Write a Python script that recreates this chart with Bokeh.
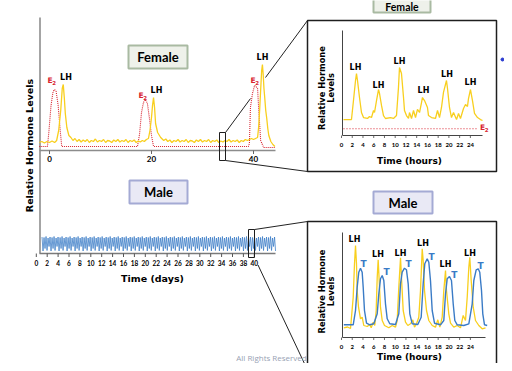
import numpy as np
from bokeh.plotting import figure
from bokeh.models import Range1d
from bokeh.core.properties import value
from bokeh.embed import file_html
from bokeh.resources import INLINE

# ---------------- data ----------------
# Female, time in days: (day, relative level)
fem_days_lh = [(-2.0, 8), (-1.5, 9), (-1.0, 7.5), (-0.5, 9), (0.0, 8), (0.5, 9.5), (1.0, 8), (1.4, 10),
               (1.6, 15), (1.8, 20), (2.2, 40), (2.5, 62), (2.7, 66), (2.9, 53), (3.1, 37), (3.4, 23),
               (3.8, 15), (4.2, 13), (4.6, 10), (5.0, 12), (5.4, 9), (5.8, 11), (6.2, 8.5), (6.6, 10.5),
               (7.0, 9), (7.4, 11), (7.8, 8), (8.2, 10), (8.6, 9), (9.0, 11.5), (9.4, 8.5), (9.8, 10),
               (10.2, 9), (10.6, 11), (11.0, 8), (11.4, 10), (11.8, 9.5), (12.2, 8), (12.6, 10.5),
               (13.0, 9), (13.4, 11), (13.8, 8.5), (14.2, 10), (14.6, 9), (15.0, 11), (15.4, 8),
               (15.8, 10), (16.2, 9), (16.6, 10.5), (17.0, 8), (17.4, 9.5), (17.8, 8.5), (18.2, 10),
               (18.6, 9), (19.0, 11), (19.4, 12), (19.7, 20), (20.0, 33), (20.2, 45), (20.4, 53),
               (20.6, 43), (20.8, 27), (21.2, 18), (21.8, 13), (22.4, 10), (22.8, 11.5), (23.2, 9),
               (23.6, 10.5), (24.0, 8), (24.4, 10), (24.8, 9), (25.2, 11), (25.6, 8.5), (26.0, 10),
               (26.4, 9), (26.8, 11), (27.2, 8), (27.6, 10), (28.0, 9.5), (28.4, 8), (28.8, 10.5),
               (29.2, 9), (29.6, 11), (30.0, 8.5), (30.4, 10), (30.8, 9), (31.2, 11), (31.6, 8),
               (32.0, 10), (32.4, 9), (32.8, 10.5), (33.2, 8), (33.6, 9.5), (34.0, 8.5), (34.4, 10),
               (34.8, 9), (35.2, 11), (35.6, 8.5), (36.0, 10), (36.4, 9), (36.8, 10.5), (37.2, 8),
               (37.6, 10), (38.0, 9), (38.4, 11), (38.8, 10), (39.2, 11), (39.6, 12), (40.0, 11),
               (40.4, 12), (40.8, 13), (41.0, 23), (41.2, 40), (41.4, 60), (41.6, 80), (41.75, 86),
               (41.9, 76), (42.05, 62), (42.2, 53), (42.4, 40), (42.6, 32), (42.8, 22), (43.0, 15),
               (43.4, 9), (43.8, 6), (44.2, 4)]
fem_days_e2 = [(-2.0, 4), (-0.4, 4), (-0.1, 20), (0.3, 45), (0.7, 59), (1.0, 61), (1.3, 59), (1.7, 45),
               (2.1, 20), (2.4, 4), (17.25, 4), (17.65, 16), (18.04, 38), (18.43, 48), (18.82, 51),
               (19.2, 47), (19.6, 32), (20.0, 15), (20.4, 4), (39.0, 4), (39.2, 7), (39.4, 43),
               (39.8, 57), (40.2, 65), (40.5, 64), (40.8, 62), (41.0, 43), (41.4, 10), (42.0, 3),
               (44.3, 3)]
fem_days_ticks = [0, 20, 40]

# Female, time in hours
fem_hours_lh = [(0.37, 15.2), (1.86, 15.2), (2.23, 33.3), (2.61, 52.4), (2.79, 59.0), (2.98, 52.4),
                (3.35, 36.2), (3.72, 21.9), (4.10, 17.1), (4.84, 16.2), (5.21, 18.1), (5.59, 17.1),
                (5.96, 23.8), (6.15, 21.9), (6.52, 33.3), (6.89, 43.8), (7.08, 40.0), (7.45, 28.6),
                (7.82, 19.0), (8.19, 16.2), (9.12, 17.1), (9.68, 16.2), (10.24, 19.0), (10.61, 45.7),
                (10.80, 64.8), (11.17, 59.0), (11.55, 36.2), (11.73, 23.8), (12.10, 19.0), (12.48, 16.2),
                (12.66, 21.9), (13.04, 16.2), (13.41, 23.8), (13.78, 17.1), (14.15, 24.8), (14.53, 21.9),
                (14.90, 31.4), (15.08, 36.2), (15.46, 33.3), (16.01, 26.7), (16.20, 19.0), (16.76, 17.1),
                (17.50, 16.2), (17.88, 23.8), (18.25, 17.1), (18.62, 26.7), (18.99, 41.0), (19.55, 52.4),
                (19.74, 44.8), (20.11, 26.7), (20.48, 17.1), (20.86, 21.9), (21.42, 15.2), (21.79, 21.0),
                (22.16, 16.2), (22.72, 25.7), (23.09, 29.5), (23.46, 27.6), (23.65, 35.2), (24.02, 43.8),
                (24.39, 33.3), (24.77, 21.0), (25.33, 17.1), (25.88, 15.2), (26.26, 14.3)]
fem_hours_e2 = [(0.37, 6.4), (25.5, 6.4)]
hour_ticks = list(range(0, 25, 2))

# Male, time in days (pulsatile testosterone, one stripe per pulse)
male_days_ticks = list(range(0, 41, 2))
male_days_span = [1.05, 43.9]
male_days_t_pattern = [16.5, 2.5, 16, 5, 17, 3, 15.5, 7]
male_days_stripes = 117

# Male, time in hours
male_hours_t = [(0.43, 12.7), (2.18, 12.7), (2.61, 27), (2.92, 50.3), (3.22, 65.3), (3.54, 69.3),
                (3.85, 65.3), (4.04, 50.3), (4.28, 27), (4.66, 14.3), (5.27, 12.7), (6.01, 13.7),
                (6.65, 23.7), (6.95, 43.7), (7.26, 58.7), (7.58, 62), (7.88, 57), (8.19, 33.7),
                (8.51, 18.7), (8.99, 13.7), (10.06, 13), (10.67, 23.7), (10.99, 53.7), (11.30, 65.3),
                (11.73, 69.3), (12.10, 67.7), (12.42, 53.7), (12.72, 23.7), (13.17, 13.7), (14.21, 13),
                (14.84, 20.3), (15.21, 53.7), (15.51, 73.7), (15.96, 78.7), (16.26, 75.3), (16.57, 57),
                (16.89, 27), (17.32, 14.3), (18.44, 12.7), (19.05, 17), (19.37, 43.7), (19.68, 58.7),
                (20.11, 61), (20.48, 57), (20.80, 33.7), (21.10, 17), (21.55, 12.7), (22.77, 12),
                (23.71, 13.7), (24.34, 33.7), (24.64, 57), (25.08, 67.7), (25.46, 68.7), (25.75, 65.3),
                (26.07, 47), (26.31, 23.7), (26.63, 12.7), (27.13, 12)]
male_hours_lh = [(0.43, 9.7), (1.12, 10.5), (1.68, 9), (2.18, 40.3), (2.42, 73.7), (2.61, 92),
                 (2.79, 73.7), (2.92, 47), (3.17, 30.3), (3.54, 18.7), (3.85, 20.3), (4.15, 12),
                 (4.79, 11), (5.27, 13), (5.53, 9.7), (5.90, 15.3), (6.20, 12), (6.46, 27),
                 (6.65, 60.3), (6.83, 77.7), (7.02, 57), (7.26, 30.3), (7.58, 17), (8.01, 12),
                 (8.81, 9.7), (9.44, 12), (10.06, 10.3), (10.37, 17), (10.67, 50.3), (10.99, 79.7),
                 (11.23, 53.7), (11.49, 27), (11.92, 15.3), (12.35, 12), (12.85, 13.7), (13.28, 17.7),
                 (13.59, 10.3), (13.97, 13.7), (14.39, 20.3), (14.71, 47), (15.03, 88.7), (15.21, 77),
                 (15.46, 47), (15.83, 27), (16.26, 17), (16.89, 12), (17.50, 10.3), (17.93, 17.7),
                 (18.31, 10.3), (18.75, 20.3), (19.05, 47), (19.37, 67), (19.55, 47), (19.98, 23.7),
                 (20.30, 14.3), (20.91, 10.3), (21.55, 12), (22.16, 9.7), (22.66, 22), (23.09, 17),
                 (23.41, 40.3), (23.71, 70.3), (23.89, 80.3), (24.15, 57), (24.53, 30.3), (24.95, 17),
                 (25.57, 12), (26.20, 8.7), (26.82, 9.7)]

LH_COLOR = "#f8cf1e"
E2_COLOR = "#d8232f"
T_COLOR = "#3a7bc6"
BOLD = value("DejaVu Sans")
LATO = value("Lato")

W, H = 504, 363


def img_y(Y):
    return H - np.asarray(Y, dtype=float)


def unzip(pairs):
    a = np.array(pairs, dtype=float)
    return a[:, 0], a[:, 1]


# panel scales (data -> page position)
def fem_days_xy(d, v):
    return 49 + 5.1 * np.asarray(d, float), img_y(150 - np.asarray(v, float))


def fem_hours_xy(h, v):
    return 341 + 5.37 * np.asarray(h, float), img_y(135 - 1.05 * np.asarray(v, float))


def male_days_xy(d, v):
    return 35.8 + 5.45 * np.asarray(d, float), img_y(253 - np.asarray(v, float))


def male_hours_xy(h, v):
    return 341 + 5.37 * np.asarray(h, float), img_y(337 - np.asarray(v, float))


p = figure(width=W, height=H, x_range=Range1d(0, W), y_range=Range1d(0, H),
           toolbar_location=None, output_backend="svg", min_border=0,
           x_axis_type=None, y_axis_type=None)
p.grid.visible = False
p.outline_line_color = None
p.background_fill_color = "white"
p.border_fill_color = "white"


def seg(x0, y0, x1, y1, color="#222222", width=1.0, dash="solid"):
    p.line([x0, x1], img_y([y0, y1]), line_color=color, line_width=width, line_dash=dash)


def box(l, t, r, b, fill=None, line="#222222", width=1.0):
    p.quad(left=[l], right=[r], top=[H - t], bottom=[H - b],
           fill_color=fill, fill_alpha=1.0 if fill else 0.0, line_color=line, line_width=width)


def label(x, y, txt, size, color="black", font=BOLD, style="bold", align="center", angle=0.0):
    p.text(x=[x], y=[H - y], text=[txt], text_font=font, text_font_style=style,
           text_font_size=size, text_color=color, text_align=align, text_baseline="middle",
           angle=angle)


def e2_label(x, y, size=7.5, sub=5.5):
    label(x, y, "E", f"{size}px", E2_COLOR)
    label(x + size * 0.55, y + 2.2, "2", f"{sub}px", E2_COLOR)


# ---------- connector lines (behind everything) ----------
seg(225, 132, 250, 98)
seg(265, 77, 307, 20)
seg(225, 160, 307, 171)
seg(254, 229, 307, 221)
seg(257.5, 264.5, 311, 378)

# ---------- big zoom boxes ----------
box(307, 20, 496, 171, fill="white", line="#1e1e1e", width=1.5)
box(307, 221, 496, 380, fill="white", line="#1e1e1e", width=1.5)

# ---------- left axes ----------
seg(39.5, 17, 39.5, 253, color="#a4a4a4", width=2)
seg(39, 150, 275, 150, color="#8c8c8c", width=1.6)
seg(39, 253, 275, 253, color="#7a7a7a", width=1.6)

label(29, 145, "Relative Hormone Levels", "9.5px", angle=np.pi / 2)

# female days ticks
for t in fem_days_ticks:
    x, _ = fem_days_xy(t, 0)
    seg(x, 150, x, 153.5, color="#666666", width=1)
    label(float(x), 158.5, str(t), "8px", font=LATO)

# male days ticks
for t in male_days_ticks:
    x, _ = male_days_xy(t, 0)
    seg(x, 253, x, 256.5, color="#555555", width=1)
    label(float(x), 262, str(t), "6.5px", font=LATO)
label(152, 278, "Time (days)", "9.5px")

# ---------- female days curves ----------
d, v = unzip(fem_days_e2)
x, y = fem_days_xy(d, v)
p.line(x, y, line_color=E2_COLOR, line_width=1.1, line_dash="1 1")
d, v = unzip(fem_days_lh)
x, y = fem_days_xy(d, v)
p.line(x, y, line_color=LH_COLOR, line_width=1.3)

e2_label(49.5, 80)
label(65.5, 77, "LH", "8px")
e2_label(140.5, 94.5)
label(156, 89.5, "LH", "8px")
e2_label(252.5, 79.5)
label(262, 57, "LH", "8px")

# small selection rectangles
box(219, 132, 225, 160, fill=None, line="#1e1e1e", width=1)

# ---------- male days stripes ----------
n = 2 * male_days_stripes
md = np.linspace(male_days_span[0], male_days_span[1], n)
mv = np.resize(np.array(male_days_t_pattern, float), n)
x, y = male_days_xy(md, mv)
p.line(x, y, line_color=T_COLOR, line_width=0.9, line_alpha=0.85)
box(248, 229, 254, 257, fill=None, line="#1e1e1e", width=1)

# ---------- title boxes ----------
box(128, 45, 187, 68, fill="#eef1ea", line="#a9baa2", width=2)
label(157.5, 56.5, "Female", "13px", font=LATO)
box(129, 180, 187, 203, fill="#e9e9f5", line="#a4aad4", width=2)
label(158, 191.5, "Male", "13px", font=LATO)
box(373, -12, 430, 12, fill="#eef1ea", line="#a9baa2", width=2)
label(401.5, 6, "Female", "10.5px", font=LATO)
box(373, 191, 432, 213, fill="#e9e9f5", line="#a4aad4", width=2)
label(402.5, 202, "Male", "13px", font=LATO)


# ---------- right panels axes ----------
def hours_axes(top, base, right):
    seg(342, top, 342, base, color="#444444", width=1)
    seg(342, base, right, base, color="#444444", width=1)
    for t in hour_ticks:
        xx = 341 + 5.37 * t
        seg(xx, base, xx, base + 2.5, color="#444444", width=0.8)
        label(xx, base + 9, str(t), "6px", font=LATO)


hours_axes(30, 135, 482)
label(409, 160, "Time (hours)", "9px")
label(321.5, 87.5, "Relative Hormone", "8.3px", angle=np.pi / 2)
label(330.5, 87.5, "Levels", "8.3px", angle=np.pi / 2)

hours_axes(232, 337, 485)
label(409, 356, "Time (hours)", "9px")
label(321.5, 291, "Relative Hormone", "8.3px", angle=np.pi / 2)
label(330.5, 291, "Levels", "8.3px", angle=np.pi / 2)

# female hours curves
h, v = unzip(fem_hours_e2)
x, y = fem_hours_xy(h, v)
p.line(x, y, line_color=E2_COLOR, line_width=1.1, line_dash="1 2")
h, v = unzip(fem_hours_lh)
x, y = fem_hours_xy(h, v)
p.line(x, y, line_color=LH_COLOR, line_width=1.3)
for (lx, ly) in [(355, 67), (378, 85), (399, 61), (423, 90), (446.5, 74), (470, 82)]:
    label(lx, ly, "LH", "8px")
e2_label(482, 127)

# male hours curves
h, v = unzip(male_hours_lh)
x, y = male_hours_xy(h, v)
p.line(x, y, line_color=LH_COLOR, line_width=1.3)
h, v = unzip(male_hours_t)
x, y = male_hours_xy(h, v)
p.line(x, y, line_color=T_COLOR, line_width=1.4)
for (lx, ly) in [(354, 239), (377.5, 254), (400, 252.7), (422.5, 242.7), (445, 264), (469.5, 252.7)]:
    label(lx, ly, "LH", "8px")
for (lx, ly) in [(363, 263.3), (386, 271), (408, 263.7), (431, 256.3), (453.7, 274), (480, 265.8)]:
    label(lx, ly, "T", "9px", color=T_COLOR)

# footer and bullet
label(271, 356.5, "All Rights Reserved", "8px", color="#98a2b4", font=value("Open Sans"), style="normal")
p.scatter([502], [H - 59], size=3, color="#2a3bd0")

open("out.html", "w").write(file_html(p, INLINE))
